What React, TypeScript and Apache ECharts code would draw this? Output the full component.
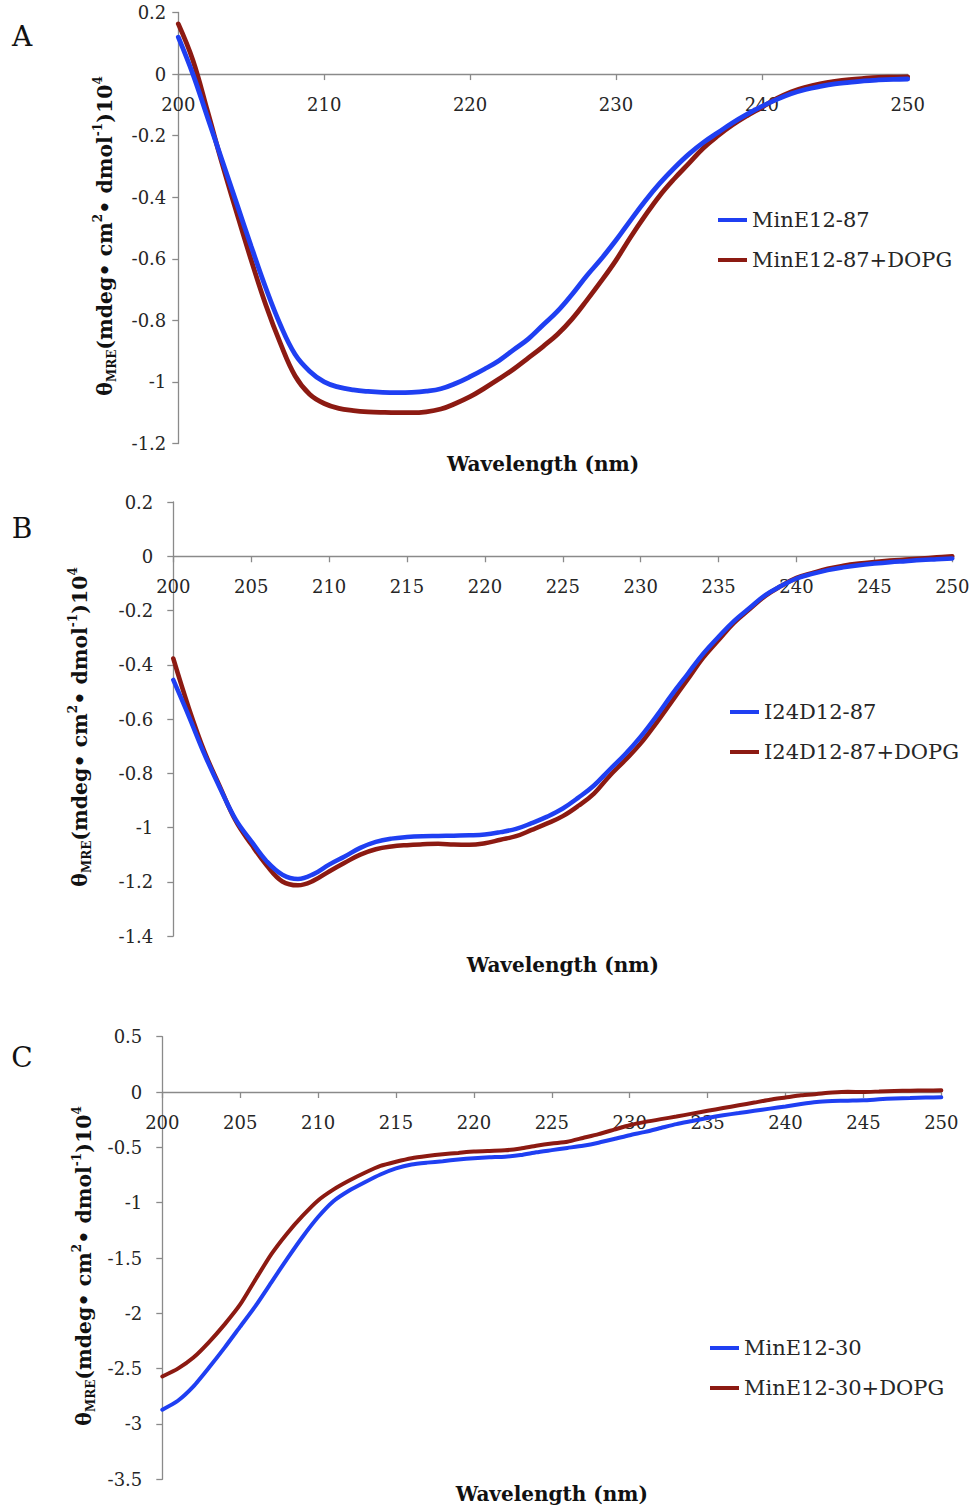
import React, { useEffect, useRef } from "react";
import * as echarts from "echarts";

const wavelength = [
  200, 201, 202, 203, 204, 205, 206, 207, 208, 209, 210, 211, 212, 213, 214, 215, 216, 217, 218, 219,
  220, 221, 222, 223, 224, 225, 226, 227, 228, 229, 230, 231, 232, 233, 234, 235, 236, 237, 238, 239,
  240, 241, 242, 243, 244, 245, 246, 247, 248, 249, 250,
];

// Panel A
const minE1287 = [
  0.12, 0.0, -0.14, -0.28, -0.42, -0.56, -0.695, -0.815, -0.91, -0.965,
  -1.0, -1.017, -1.026, -1.031, -1.034, -1.035, -1.034, -1.03, -1.022, -1.005,
  -0.983, -0.958, -0.93, -0.895, -0.86, -0.815, -0.77, -0.715, -0.655, -0.6,
  -0.54, -0.475, -0.412, -0.355, -0.305, -0.26, -0.222, -0.19, -0.158, -0.13,
  -0.105, -0.083, -0.064, -0.05, -0.04, -0.032, -0.027, -0.022, -0.019, -0.017, -0.016,
];
const minE1287Dopg = [
  0.163, 0.045, -0.12, -0.29, -0.45, -0.605, -0.75, -0.875, -0.98, -1.04,
  -1.07, -1.086, -1.093, -1.097, -1.099, -1.1, -1.1, -1.097, -1.088, -1.07,
  -1.048, -1.02, -0.99, -0.958, -0.922, -0.885, -0.845, -0.795, -0.735, -0.672,
  -0.605, -0.53, -0.46, -0.395, -0.34, -0.29, -0.24, -0.2, -0.165, -0.135,
  -0.108, -0.08, -0.058, -0.043, -0.032, -0.024, -0.018, -0.014, -0.011, -0.01, -0.009,
];

// Panel B
const i24d1287 = [
  -0.456, -0.59, -0.73, -0.855, -0.97, -1.05, -1.125, -1.174, -1.19, -1.172,
  -1.137, -1.107, -1.075, -1.053, -1.041, -1.035, -1.032, -1.031, -1.03, -1.029,
  -1.026, -1.017, -1.005, -0.984, -0.96, -0.93, -0.89, -0.845, -0.787, -0.73,
  -0.665, -0.59, -0.51, -0.435, -0.36, -0.297, -0.238, -0.19, -0.143, -0.11,
  -0.082, -0.065, -0.051, -0.041, -0.033, -0.027, -0.022, -0.018, -0.014, -0.011, -0.008,
];
const i24d1287Dopg = [
  -0.377, -0.56, -0.72, -0.85, -0.975, -1.062, -1.14, -1.199, -1.213, -1.196,
  -1.162, -1.13, -1.1, -1.08, -1.07, -1.065, -1.062, -1.06, -1.063, -1.064,
  -1.058, -1.045, -1.032, -1.009, -0.985, -0.958, -0.92, -0.875, -0.81, -0.752,
  -0.69, -0.615, -0.535, -0.455, -0.375, -0.309, -0.245, -0.195, -0.146, -0.11,
  -0.08, -0.062, -0.046, -0.035, -0.027, -0.021, -0.016, -0.012, -0.008, -0.004, 0.0,
];

// Panel C
const minE1230 = [
  -2.871, -2.79, -2.66, -2.49, -2.31, -2.12, -1.93, -1.72, -1.51, -1.31,
  -1.13, -0.985, -0.89, -0.815, -0.745, -0.69, -0.655, -0.638, -0.625, -0.61,
  -0.598, -0.59, -0.584, -0.57, -0.545, -0.525, -0.505, -0.485, -0.458, -0.425,
  -0.39, -0.36, -0.325, -0.29, -0.262, -0.234, -0.21, -0.19, -0.17, -0.15,
  -0.13, -0.108, -0.09, -0.082, -0.078, -0.075, -0.066, -0.058, -0.054, -0.05, -0.048,
];
const minE1230Dopg = [
  -2.571, -2.5, -2.4, -2.26, -2.1, -1.92, -1.69, -1.465, -1.28, -1.12,
  -0.98, -0.88, -0.8, -0.73, -0.668, -0.63, -0.598, -0.578, -0.562, -0.55,
  -0.538, -0.532, -0.527, -0.51, -0.485, -0.465, -0.45, -0.415, -0.38, -0.34,
  -0.3, -0.27, -0.245, -0.222, -0.195, -0.17, -0.145, -0.12, -0.095, -0.07,
  -0.05, -0.03, -0.018, -0.005, 0.002, 0.0, 0.005, 0.01, 0.012, 0.014, 0.015,
];

const BLUE = "#1f3ff2";
const RED = "#8c1a12";
const AXIS = "#8a8a8a";
const TXT = "#262626";
const SERIF = "DejaVu Serif";

const panels = [
  {
    letter: "A", names: ["MinE12-87", "MinE12-87+DOPG"], blue: minE1287, red: minE1287Dopg,
    grid: { left: 178.3, top: 12.5, width: 729.4, height: 431 },
    yMin: -1.2, yMax: 0.2, yInt: 0.2, xInt: 10, yMargin: 12, lw: 4.8,
    legend: { left: 713, top: 202 }, letterPos: [22, 36], titleX: 105, xTitleY: 464, smooth: 0.4,
  },
  {
    letter: "B", names: ["I24D12-87", "I24D12-87+DOPG"], blue: i24d1287, red: i24d1287Dopg,
    grid: { left: 173.3, top: 502, width: 779, height: 434 },
    yMin: -1.4, yMax: 0.2, yInt: 0.2, xInt: 5, yMargin: 20, lw: 4.5,
    legend: { left: 725, top: 694 }, letterPos: [22, 528], titleX: 80, xTitleY: 965, smooth: 0.4,
  },
  {
    letter: "C", names: ["MinE12-30", "MinE12-30+DOPG"], blue: minE1230, red: minE1230Dopg,
    grid: { left: 162.3, top: 1036.7, width: 779, height: 442.6 },
    yMin: -3.5, yMax: 0.5, yInt: 0.5, xInt: 5, yMargin: 20, lw: 4,
    legend: { left: 705, top: 1330 }, letterPos: [22, 1057], titleX: 84, xTitleY: 1494, smooth: 0.2,
  },
];

export default function App() {
  const ref = useRef<HTMLDivElement>(null);
  useEffect(() => {
    if (!ref.current) return;
    const chart = echarts.init(ref.current, null, { renderer: "svg" });
    const grids: any[] = [];
    const xAxes: any[] = [];
    const yAxes: any[] = [];
    const series: any[] = [];
    const legends: any[] = [];
    const graphics: any[] = [];
    panels.forEach((p, i) => {
      grids.push({ ...p.grid, containLabel: false });
      // place the x axis at y = 0 by shifting it up from the grid bottom
      const zeroOffset = -((0 - p.yMin) / (p.yMax - p.yMin)) * p.grid.height;
      xAxes.push({
        type: "value", gridIndex: i, min: 200, max: 250, interval: p.xInt,
        position: "bottom", offset: zeroOffset,
        axisLine: { show: true, onZero: false, lineStyle: { color: AXIS, width: 1.3 } },
        axisTick: { show: true, length: 6, lineStyle: { color: AXIS, width: 1.3 } },
        splitLine: { show: false },
        axisLabel: { margin: 21, fontSize: 18, color: TXT, fontFamily: SERIF, showMinLabel: true, showMaxLabel: true },
      });
      yAxes.push({
        type: "value", gridIndex: i, min: p.yMin, max: p.yMax, interval: p.yInt,
        axisLine: { show: true, onZero: false, lineStyle: { color: AXIS, width: 1.3 } },
        axisTick: { show: true, length: 6, lineStyle: { color: AXIS, width: 1.3 } },
        splitLine: { show: false },
        axisLabel: { margin: p.yMargin, fontSize: 18, color: TXT, fontFamily: SERIF },
      });
      [p.blue, p.red].forEach((vals, k) => {
        series.push({
          type: "line", name: p.names[k], xAxisIndex: i, yAxisIndex: i,
          data: wavelength.map((w, j) => [w, vals[j]]),
          showSymbol: false, symbol: "none", smooth: p.smooth,
          lineStyle: { width: p.lw, color: k === 0 ? BLUE : RED, cap: "round" },
          itemStyle: { color: k === 0 ? BLUE : RED },
          z: k === 0 ? 3 : 2,
        });
      });
      legends.push({
        data: p.names, orient: "vertical", left: p.legend.left, top: p.legend.top,
        icon: "rect", itemWidth: 29, itemHeight: 4, itemGap: 14,
        textStyle: { fontSize: 21, color: TXT, fontFamily: SERIF, lineHeight: 26 },
        selectedMode: false,
      });
      graphics.push({
        type: "text", x: p.letterPos[0], y: p.letterPos[1],
        style: { text: p.letter, font: `28px "${SERIF}"`, fill: "#111", align: "center", verticalAlign: "middle" },
      });
      graphics.push({
        type: "text", x: p.grid.left + p.grid.width / 2, y: p.xTitleY,
        style: { text: "Wavelength (nm)", font: `bold 20px "${SERIF}"`, fill: "#111", align: "center", verticalAlign: "middle" },
      });
      graphics.push({
        type: "text", x: p.titleX, y: p.grid.top + p.grid.height / 2 + 8, rotation: Math.PI / 2,
        style: {
          text: "{t|θ}{sub|MRE}{t|(mdeg• cm}{sup|2}{t|• dmol}{sup|-1}{t|)10}{sup|4}",
          align: "center", verticalAlign: "middle", fill: "#111",
          rich: {
            t: { fontSize: 20.5, fontWeight: "bold", fontFamily: SERIF, lineHeight: 26, verticalAlign: "middle", fill: "#111" },
            sub: { fontSize: 12, fontWeight: "bold", fontFamily: SERIF, lineHeight: 12, verticalAlign: "bottom", fill: "#111" },
            sup: { fontSize: 12, fontWeight: "bold", fontFamily: SERIF, lineHeight: 12, verticalAlign: "top", fill: "#111" },
          },
        },
      });
    });
    chart.setOption({
      animation: false,
      backgroundColor: "#ffffff",
      grid: grids,
      xAxis: xAxes,
      yAxis: yAxes,
      legend: legends,
      series,
      graphic: graphics,
    });
    return () => chart.dispose();
  }, []);
  return <div ref={ref} style={{ position: "absolute", left: 0, top: 0, width: 976, height: 1508 }} />;
}
